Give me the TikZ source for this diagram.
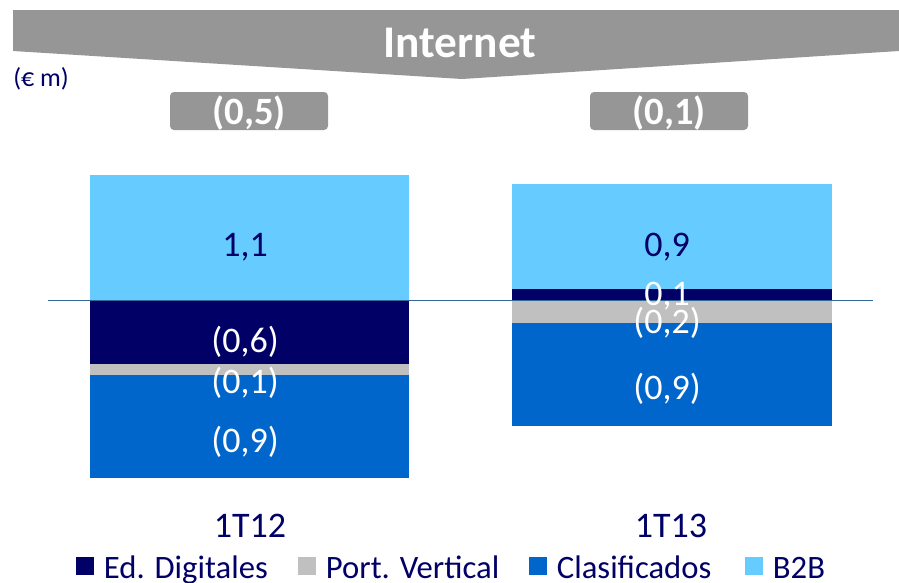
\documentclass[tikz,border=0pt]{standalone}
\usepackage{fontspec}
\setmainfont{Carlito}
\usetikzlibrary{positioning}
\definecolor{navy}{HTML}{000066}
\definecolor{portgray}{HTML}{C0C0C0}
\definecolor{clasblue}{HTML}{0066CC}
\definecolor{btobblue}{HTML}{66CCFF}
\definecolor{bannergray}{HTML}{969696}
\definecolor{axisblue}{HTML}{336699}
\newcommand\fs[1]{\fontsize{#1}{#1}\selectfont}
% one stacked piece of a bar: colour, left, right, top, bottom
\newcommand\piece[5]{\fill[#1] (#2,#4) rectangle (#3,#5);}
\tikzstyle{val}=[font=\fs{27}, inner sep=0pt, anchor=base]
\tikzstyle{inval}=[val, text=white]
\tikzstyle{outval}=[val, text=navy]
\tikzstyle{total}=[font=\fs{29}\bfseries, text=white, inner sep=0pt, anchor=base]
\tikzstyle{pill}=[fill=bannergray, rounded corners=3pt]
\tikzstyle{key}=[minimum size=14pt, inner sep=0pt, outer sep=0pt]
\tikzstyle{keytext}=[font=\fs{24.5}, text=navy, inner sep=0pt, right=7pt of #1.east, anchor=base west, yshift=-9.5pt]

\begin{document}
\begin{tikzpicture}[x=0.75pt,y=-0.75pt]
	\useasboundingbox (0,0) rectangle (899,582);
	% banner
	\fill[bannergray] (13,10) -- (899,10) -- (899,51) -- (462,79) -- (13,51) -- cycle;
	\node[font=\fs{34}\bfseries, text=white, inner sep=0pt, anchor=base] (title) at (460,57) {Internet};
	\node[font=\fs{19.5}, text=navy, inner sep=0pt, anchor=base west] (unit) at (13,86) {(€ m)};
	% totals
	\fill[pill] (170,92) rectangle (328,130);
	\fill[pill] (590,92) rectangle (748,130);
	\node[total] (tot1) at (249,124) {(0,5)};
	\node[total] (tot2) at (669,124) {(0,1)};
	% 1T12
	\piece{btobblue}{90}{409}{175}{301}
	\piece{navy}{90}{409}{301}{364}
	\piece{portgray}{90}{409}{364}{375}
	\piece{clasblue}{90}{409}{375}{478}
	% 1T13
	\piece{btobblue}{512}{832}{184}{289}
	\piece{navy}{512}{832}{289}{301}
	\piece{portgray}{512}{832}{301}{323}
	\piece{clasblue}{512}{832}{323}{426}
	% zero line
	\draw[axisblue, line width=0.75pt] (48,300.7) -- (873,300.7);
	% values
	\node[outval] (b2b1) at (245,256) {1,1};
	\node[inval] (dig1) at (245,352) {(0,6)};
	\node[inval] (port1) at (245,393) {(0,1)};
	\node[inval] (clas1) at (245,452) {(0,9)};
	\node[outval] (b2b2) at (667,256) {0,9};
	\node[inval] (dig2) at (667,305) {0,1};
	\node[inval] (port2) at (667,333) {(0,2)};
	\node[inval] (clas2) at (667,399) {(0,9)};
	% categories
	\node[val, text=navy] (q1) at (250,537) {1T12};
	\node[val, text=navy] (q2) at (671,537) {1T13};
	% legend
	\node[key, fill=navy] (k1) at (85,566) {};
	\node[keytext=k1] (t1) {Ed. Digitales};
	\node[key, fill=portgray] (k2) at (307,566) {};
	\node[keytext=k2] (t2) {Port. Vertical};
	\node[key, fill=clasblue] (k3) at (538,566) {};
	\node[keytext=k3] (t3) {Clasificados};
	\node[key, fill=btobblue] (k4) at (754,566) {};
	\node[keytext=k4] (t4) {B2B};
\end{tikzpicture}
\end{document}
